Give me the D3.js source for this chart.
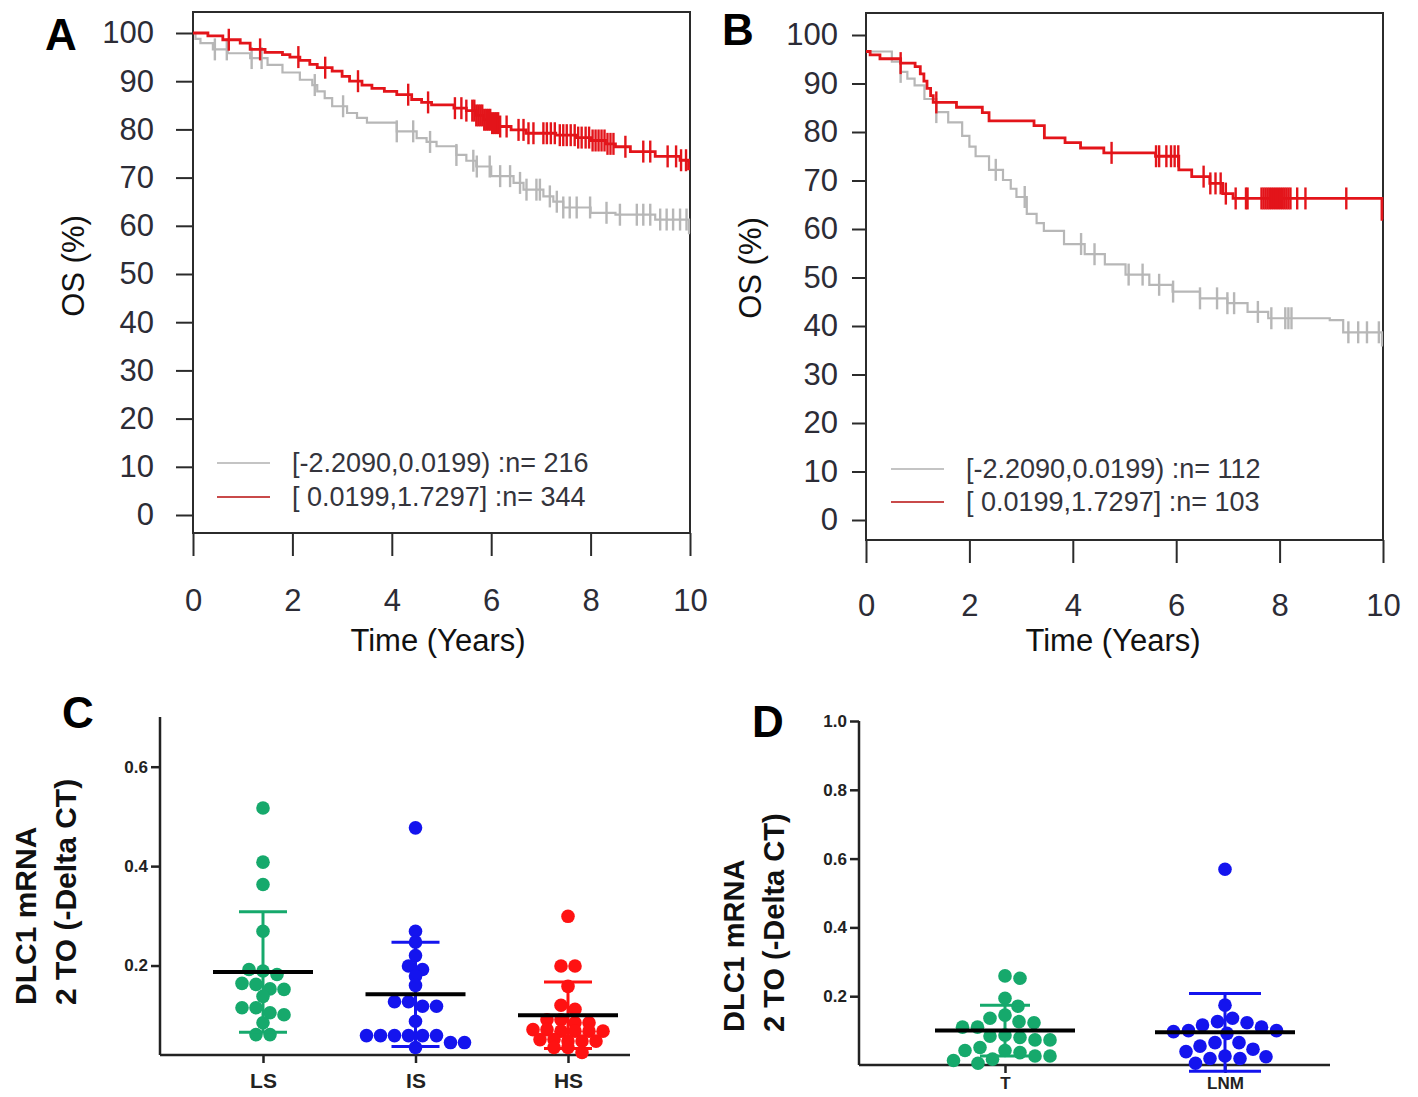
<!DOCTYPE html>
<html>
<head>
<meta charset="utf-8">
<script src="https://cdn.jsdelivr.net/npm/d3@7"></script>
<style>
  body { margin: 0; background: #fff; }
  text { font-family: "Liberation Sans", Arial, sans-serif; }
</style>
</head>
<body>
<svg id="chart" width="1418" height="1097"></svg>
<script>
// ---- data ----
const timeTicks = [0, 2, 4, 6, 8, 10];
const osTicks = [0, 10, 20, 30, 40, 50, 60, 70, 80, 90, 100];
const legendA = ["[-2.2090,0.0199) :n= 216", "[ 0.0199,1.7297] :n= 344"];
const legendB = ["[-2.2090,0.0199) :n= 112", "[ 0.0199,1.7297] :n= 103"];

// panel A, [time, survival %]
const aLowSteps = [[0,100],[0.05,98.8],[0.15,97.9],[0.4,96.6],[0.7,95.8],[1.15,94.8],[1.5,93.4],[1.8,91.8],[2.15,90.3],[2.4,89.2],[2.5,87.9],[2.65,86.5],[2.8,84.8],[3.1,83.4],[3.3,82.4],[3.5,81.4],[4.1,79.6],[4.5,78.2],[4.7,77.4],[4.9,76.5],[5.3,74.7],[5.5,73.5],[5.7,72.3],[6.0,70.3],[6.45,68.9],[6.65,67.5],[7.05,66.1],[7.25,65.0],[7.45,63.8],[8.0,62.7],[8.5,62.3],[9.3,61.3],[9.98,58.5],[10,58.5]];
const aLowCensor = [0.44,0.68,1.18,1.38,2.45,3.02,4.1,4.43,4.77,5.3,5.64,5.71,5.97,6.18,6.38,6.58,6.71,6.91,6.98,7.18,7.32,7.45,7.58,7.72,7.99,8.32,8.59,8.93,9.06,9.2,9.4,9.53,9.66,9.8,9.93];
const aHighSteps = [[0,100],[0.3,99.4],[0.6,98.6],[0.95,97.9],[1.15,96.6],[1.45,96.0],[1.8,95.5],[1.95,95.0],[2.15,94.3],[2.35,93.5],[2.5,92.8],[2.8,92.1],[3.0,91.0],[3.15,90.0],[3.4,89.2],[3.6,88.5],[3.85,87.9],[4.1,87.2],[4.4,86.2],[4.6,85.6],[4.8,85.1],[5.25,84.4],[5.5,83.9],[5.7,82.9],[5.85,82.0],[6.0,81.3],[6.15,80.6],[6.4,79.9],[6.7,79.2],[7.3,78.8],[7.7,78.3],[8.0,77.7],[8.3,77.0],[8.5,76.4],[8.8,75.4],[9.3,74.4],[9.8,73.6],[9.97,71.8],[10,71.8]];
const aHighCensor = [0.72,1.35,2.12,2.66,3.32,4.33,4.73,5.27,5.4,5.5,5.62,5.66,5.7,5.74,5.78,5.82,5.86,5.9,5.94,5.98,6.02,6.06,6.1,6.14,6.18,6.31,6.55,6.65,6.75,6.85,7.05,7.12,7.2,7.28,7.38,7.45,7.52,7.6,7.68,7.75,7.82,7.9,7.97,8.04,8.1,8.16,8.22,8.28,8.34,8.4,8.46,8.7,9.06,9.2,9.55,9.72,9.82,9.92];

// panel B
const bLowSteps = [[0,96.6],[0.5,94.5],[0.67,92.4],[0.8,91.0],[0.94,89.6],[1.13,86.8],[1.36,84.1],[1.59,82.0],[1.86,79.2],[2.0,77.0],[2.12,75.0],[2.38,72.2],[2.65,70.1],[2.8,68.3],[2.91,66.6],[3.11,63.1],[3.3,61.2],[3.44,59.6],[3.83,56.9],[4.23,54.8],[4.62,52.7],[5.02,50.6],[5.48,48.5],[5.93,47.1],[6.46,45.7],[6.99,44.7],[7.38,42.9],[7.78,41.6],[8.97,41.2],[9.23,38.7],[9.98,36.0],[10,36.0]];
const bLowCensor = [0.67,1.36,2.51,3.07,4.16,4.42,5.08,5.35,5.67,5.94,6.46,6.79,6.99,7.12,7.58,7.84,8.11,8.17,8.23,9.33,9.52,9.69,9.92];
const bHighSteps = [[0,96.6],[0.08,95.9],[0.27,95.1],[0.67,94.2],[0.95,93.5],[1.05,92.0],[1.12,90.5],[1.18,89.0],[1.25,87.5],[1.3,86.1],[1.75,85.1],[2.25,84.0],[2.38,82.3],[3.25,81.3],[3.45,78.8],[3.85,77.8],[4.15,76.7],[4.6,75.7],[5.6,75.0],[6.05,72.2],[6.3,70.8],[6.65,69.4],[6.9,67.3],[7.1,66.3],[9.98,62.0],[10,62.0]];
const bHighCensor = [0.67,1.36,4.75,5.61,5.67,5.81,5.9,5.97,6.04,6.53,6.66,6.76,6.86,6.96,7.15,7.35,7.38,7.65,7.69,7.73,7.77,7.81,7.85,7.89,7.93,7.97,8.01,8.05,8.09,8.13,8.17,8.21,8.34,8.5,9.29];

// panel C
const cGroups = ["LS", "IS", "HS"];
const cLS = [0.517,0.408,0.363,0.269,0.192,0.189,0.182,0.164,0.162,0.153,0.152,0.138,0.115,0.115,0.105,0.101,0.085,0.061,0.061];
const cIS = [0.477,0.269,0.247,0.220,0.199,0.192,0.179,0.160,0.127,0.127,0.118,0.118,0.088,0.059,0.059,0.059,0.059,0.059,0.059,0.045,0.045,0.035];
const cHS = [0.299,0.199,0.199,0.158,0.120,0.112,0.091,0.091,0.085,0.085,0.071,0.071,0.068,0.068,0.068,0.068,0.051,0.051,0.048,0.048,0.048,0.035,0.035,0.025];
const cMean = [0.187, 0.142, 0.100];
const cSD = [0.121, 0.105, 0.067];
const cTicks = [0.2, 0.4, 0.6];

// panel D
const dGroups = ["T", "LNM"];
const dT = [0.259,0.252,0.194,0.171,0.145,0.136,0.126,0.123,0.110,0.110,0.087,0.084,0.080,0.073,0.073,0.051,0.042,0.042,0.036,0.026,0.026,0.017,0.013,0.005];
const dLNM = [0.569,0.174,0.136,0.126,0.123,0.116,0.110,0.100,0.100,0.097,0.092,0.065,0.065,0.055,0.046,0.039,0.026,0.024,0.019,0.019,0.005];
const dMean = [0.100, 0.095];
const dSD = [0.074, 0.113];
const dTicks = [0.2, 0.4, 0.6, 0.8, 1.0];

const RED = "#e3141a", GRAY = "#b7b7b7";
const GREEN = "#16a96c", BLUE = "#1414ee", BRIGHTRED = "#ff1212";

const svg = d3.select("#chart");

// survival value at time t for a step list
function survAt(steps, t) {
  let s = steps[0][1];
  for (const p of steps) { if (p[0] <= t) s = p[1]; else break; }
  return s;
}

function kmPanel(o) {
  const x = d3.scaleLinear().domain([0, 10]).range([o.left, o.right]);
  const y = d3.scaleLinear().domain([0, 100]).range([o.y0, o.y100]);

  svg.append("rect")
    .attr("x", o.left).attr("y", o.top)
    .attr("width", o.right - o.left).attr("height", o.bottom - o.top)
    .attr("fill", "none").attr("stroke", "#2b2b2b").attr("stroke-width", 2);

  const gy = svg.append("g")
    .attr("transform", `translate(${o.left},0)`)
    .call(d3.axisLeft(y).tickValues(osTicks).tickSize(o.ytick).tickPadding(o.ypad));
  const gx = svg.append("g")
    .attr("transform", `translate(0,${o.bottom})`)
    .call(d3.axisBottom(x).tickValues(timeTicks).tickSize(23).tickPadding(o.xpad));
  [gy, gx].forEach(g => {
    g.select(".domain").remove();
    g.selectAll(".tick line").attr("stroke", "#2b2b2b").attr("stroke-width", 2);
    g.selectAll(".tick text").attr("font-size", 31).attr("fill", "#2c2c36")
      .style("font-family", "'Liberation Sans', Arial, sans-serif");
  });

  const line = d3.line().x(d => x(d[0])).y(d => y(d[1])).curve(d3.curveStepAfter);
  const series = [
    { steps: o.low, censor: o.lowC, color: GRAY, w: 2.2 },
    { steps: o.high, censor: o.highC, color: RED, w: 2.8 }
  ];
  series.forEach(s => {
    svg.append("path").datum(s.steps).attr("d", line)
      .attr("fill", "none").attr("stroke", s.color).attr("stroke-width", s.w);
    svg.append("g").selectAll("line").data(s.censor).join("line")
      .attr("x1", d => x(d)).attr("x2", d => x(d))
      .attr("y1", d => y(survAt(s.steps, d)) - 11)
      .attr("y2", d => y(survAt(s.steps, d)) + 11)
      .attr("stroke", s.color).attr("stroke-width", 2.4);
  });

  // legend
  const lg = svg.append("g");
  o.legend.forEach((t, i) => {
    const ly = o.legY[i];
    lg.append("line").attr("x1", o.legX).attr("x2", o.legX + 53)
      .attr("y1", ly).attr("y2", ly)
      .attr("stroke", i === 0 ? "#c4c4c4" : "#c94a4a").attr("stroke-width", 2);
    lg.append("text").attr("x", o.legX + 75).attr("y", ly + 9)
      .attr("font-size", 27).attr("fill", "#34343c").text(t);
  });

  svg.append("text").attr("x", o.titleX).attr("y", 651)
    .attr("text-anchor", "middle").attr("font-size", 31).attr("fill", "#111")
    .text("Time (Years)");
  svg.append("text")
    .attr("transform", `translate(${o.osX},${o.osY}) rotate(-90)`)
    .attr("text-anchor", "middle").attr("font-size", 31).attr("fill", "#111")
    .text("OS (%)");
  svg.append("text").attr("x", o.letX).attr("y", o.letY)
    .attr("font-size", 44).attr("font-weight", "bold").attr("fill", "#000")
    .text(o.letter);
}

kmPanel({ letter: "A", letX: 45, letY: 50, left: 193, right: 690, top: 12, bottom: 533,
  y0: 515, y100: 33, ytick: 17, ypad: 22, xpad: 33,
  low: aLowSteps, lowC: aLowCensor, high: aHighSteps, highC: aHighCensor,
  legend: legendA, legX: 217, legY: [463, 497], titleX: 438, osX: 84, osY: 266 });

kmPanel({ letter: "B", letX: 722, letY: 45, left: 866, right: 1383, top: 13, bottom: 540,
  y0: 520, y100: 35, ytick: 14, ypad: 14, xpad: 31,
  low: bLowSteps, lowC: bLowCensor, high: bHighSteps, highC: bHighCensor,
  legend: legendB, legX: 891, legY: [469, 502], titleX: 1113, osX: 761, osY: 268 });

// scatter dot layout: points with close y share a row, spread symmetrically
function rows(values, y, gap) {
  const pts = values.map(v => ({ v, py: y(v) })).sort((a, b) => a.py - b.py);
  const out = [];
  let bin = [];
  pts.forEach(p => {
    if (bin.length && p.py - bin[0].py > 7) { out.push(bin); bin = []; }
    bin.push(p);
  });
  if (bin.length) out.push(bin);
  out.forEach(b => b.forEach((p, i) => { p.dx = (i - (b.length - 1) / 2) * gap; }));
  return pts;
}

// beeswarm: nearest free horizontal offset
function swarm(values, y, gap) {
  const placed = [];
  const pts = values.map(v => ({ v, py: y(v) })).sort((a, b) => a.py - b.py);
  pts.forEach(p => {
    for (let k = 0; k < 400; k++) {
      const off = (k % 2 ? 1 : -1) * Math.ceil(k / 2) * 0.5;
      const ok = placed.every(q => (off - q.dx) ** 2 + (p.py - q.py) ** 2 >= gap * gap);
      if (ok) { p.dx = off; break; }
    }
    placed.push(p);
  });
  return placed;
}

function dotPanel(o) {
  const x = d3.scalePoint().domain(o.groups).range(o.xr);
  const y = d3.scaleLinear().domain(o.ydom).range(o.yr);

  const gy = svg.append("g").attr("transform", `translate(${o.axisX},0)`)
    .call(d3.axisLeft(y).tickValues(o.ticks).tickSize(9).tickPadding(3).tickFormat(d3.format(".1f")));
  gy.select(".domain").attr("d", `M0,${o.yr[1]}V${o.yr[0]}`);
  const gx = svg.append("g").attr("transform", `translate(0,${o.yr[0]})`)
    .call(d3.axisBottom(x).tickSize(8).tickPadding(o.catPad));
  gx.select(".domain").attr("d", `M${o.axisX},0H${o.axisEnd}`);
  [gy, gx].forEach(g => {
    g.select(".domain").attr("stroke", "#222").attr("stroke-width", 2.5);
    g.selectAll(".tick line").attr("stroke", "#222").attr("stroke-width", 2.5);
    g.selectAll(".tick text").attr("fill", "#222").attr("font-weight", "bold")
      .style("font-family", "'Liberation Sans', Arial, sans-serif");
  });
  gy.selectAll(".tick text").attr("font-size", 17);
  gx.selectAll(".tick text").attr("font-size", o.catSize);

  o.groups.forEach((g, i) => {
    const cx = x(g);
    const pts = o.layout(o.values[i], y, o.gap);
    svg.append("g").selectAll("circle").data(pts).join("circle")
      .attr("cx", d => cx + d.dx).attr("cy", d => d.py).attr("r", 6.8)
      .attr("fill", o.colors[i]);
    const top = y(o.mean[i] + o.sd[i]), bot = y(o.mean[i] - o.sd[i]);
    const eb = svg.append("g").attr("stroke", o.colors[i]).attr("stroke-width", 3);
    eb.append("line").attr("x1", cx).attr("x2", cx).attr("y1", top).attr("y2", bot);
    eb.append("line").attr("x1", cx - o.cap[i]).attr("x2", cx + o.cap[i]).attr("y1", top).attr("y2", top);
    eb.append("line").attr("x1", cx - o.cap[i]).attr("x2", cx + o.cap[i]).attr("y1", bot).attr("y2", bot);
    svg.append("line").attr("x1", cx - o.meanW).attr("x2", cx + o.meanW)
      .attr("y1", y(o.mean[i])).attr("y2", y(o.mean[i]))
      .attr("stroke", "#000").attr("stroke-width", 4);
  });

  o.label.forEach((t, i) => {
    svg.append("text")
      .attr("transform", `translate(${o.labX[i]},${o.labY}) rotate(-90)`)
      .attr("font-size", o.labSize).attr("font-weight", "bold").attr("fill", "#111")
      .text(t);
  });
  svg.append("text").attr("x", o.letX).attr("y", o.letY)
    .attr("font-size", 44).attr("font-weight", "bold").attr("fill", "#000")
    .text(o.letter);
}

dotPanel({ letter: "C", letX: 62, letY: 728, groups: cGroups, xr: [263, 568],
  ydom: [0.02, 0.7], yr: [1055, 717], axisX: 160, axisEnd: 630, ticks: cTicks,
  catPad: 10, catSize: 21, layout: rows, gap: 14,
  values: [cLS, cIS, cHS], colors: [GREEN, BLUE, BRIGHTRED], mean: cMean, sd: cSD,
  cap: [24, 24, 24], meanW: 50,
  label: ["DLC1 mRNA", "2 TO (-Delta CT)"], labX: [36, 76], labY: 1005, labSize: 30 });

dotPanel({ letter: "D", letX: 752, letY: 737, groups: dGroups, xr: [1005, 1225],
  ydom: [0, 1.0], yr: [1065, 721], axisX: 859, axisEnd: 1330, ticks: dTicks,
  catPad: 4, catSize: 17, layout: swarm, gap: 15,
  values: [dT, dLNM], colors: [GREEN, BLUE], mean: dMean, sd: dSD,
  cap: [25, 36], meanW: 70,
  label: ["DLC1 mRNA", "2 TO (-Delta CT)"], labX: [744, 784], labY: 1032, labSize: 29 });
</script>
</body>
</html>
